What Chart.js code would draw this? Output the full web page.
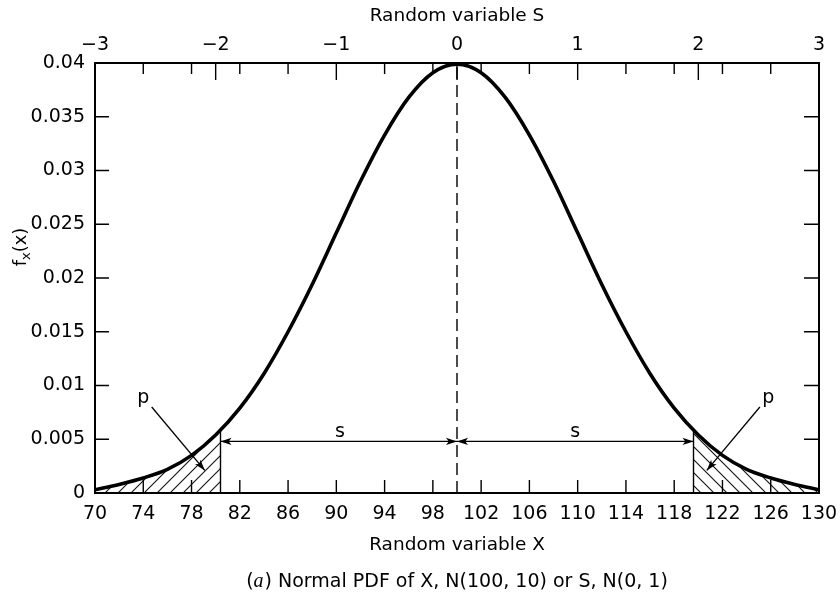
<!DOCTYPE html>
<html><head><meta charset="utf-8">
<script src="https://cdn.jsdelivr.net/npm/chart.js@4.4.1/dist/chart.umd.min.js"></script>
<style>html,body{margin:0;padding:0;background:#fff}#wrap{width:840px;height:596px}</style>
</head><body><div id="wrap"><canvas id="c" width="840" height="596"></canvas></div>
<script>
// ---- data ----
const xValues  = [70,72,74,76,78,80,82,84,86,88,90,92,94,96,98,100,102,104,106,108,110,112,114,116,118,120,122,124,126,128,130];
const fxValues = [0.0003,0.0008,0.0014,0.0022,0.0035,0.0054,0.0079,0.0111,0.0150,0.0194,0.0242,0.0290,0.0333,0.0368,0.0391,0.0399,
                  0.0391,0.0368,0.0333,0.0290,0.0242,0.0194,0.0150,0.0111,0.0079,0.0054,0.0035,0.0022,0.0014,0.0008,0.0003];
const xTickValues = [70,74,78,82,86,90,94,98,102,106,110,114,118,122,126,130];
const sTickValues = [-3,-2,-1,0,1,2,3];
const sTickLabels = ['\u22123','\u22122','\u22121','0','1','2','3'];
const yTickValues = [0,0.005,0.01,0.015,0.02,0.025,0.03,0.035,0.04];
const yTickLabels = ['0','0.005','0.01','0.015','0.02','0.025','0.03','0.035','0.04'];
const meanX = 100, peakFx = 0.0399;
const tailLowX = 80.4, tailHighX = 119.6, fxAtTail = 0.0058;
const sArrowFx = 0.0048;
// annotation anchors (data units)
const sLabels = [{x:90.3,y:0.0057,t:'s'},{x:109.8,y:0.0057,t:'s'}];
const pLabels = [{x:74.0,y:0.0088,t:'p'},{x:125.8,y:0.0088,t:'p'}];
const pArrows = [{x0:74.7,y0:0.0080,x1:79.1,y1:0.0021},{x0:125.1,y0:0.0080,x1:120.7,y1:0.0021}];

const curvePts = xValues.map((x,i)=>({x:x,y:fxValues[i]}));
const leftTail = curvePts.filter(p=>p.x<=tailLowX).concat([{x:tailLowX,y:fxAtTail}]);
const rightTail = [{x:tailHighX,y:fxAtTail}].concat(curvePts.filter(p=>p.x>=tailHighX));

const FONT = "'DejaVu Sans', sans-serif";
const ctx0 = document.getElementById('c').getContext('2d');
function hatch(dir){
  const n=13, c=document.createElement('canvas'); c.width=n; c.height=n;
  const g=c.getContext('2d'); g.strokeStyle='#111'; g.lineWidth=1.1; g.beginPath();
  if(dir>0){ g.moveTo(0,n); g.lineTo(n,0); g.moveTo(-n/2,n/2); g.lineTo(n/2,-n/2); g.moveTo(n/2,n*1.5); g.lineTo(n*1.5,n/2); }
  else { g.moveTo(0,0); g.lineTo(n,n); g.moveTo(-n/2,n/2); g.lineTo(n/2,n*1.5); g.moveTo(n/2,-n/2); g.lineTo(n*1.5,n/2); }
  g.stroke(); return ctx0.createPattern(c,'repeat');
}

function arrowHead(ctx,x,y,ang){
  const len=11,w=3.6;
  ctx.save(); ctx.translate(x,y); ctx.rotate(ang);
  ctx.beginPath(); ctx.moveTo(0,0); ctx.lineTo(-len,-w); ctx.lineTo(-len*0.75,0); ctx.lineTo(-len,w); ctx.closePath(); ctx.fill();
  ctx.restore();
}

const decor = {
  id:'decor',
  afterDraw(chart){
    const {ctx, chartArea:a} = chart;
    const xs=chart.scales.x, ys=chart.scales.y, ss=chart.scales.xs;
    ctx.save();
    ctx.strokeStyle='#000'; ctx.fillStyle='#000';
    // frame
    ctx.lineWidth=2; ctx.strokeRect(a.left,a.top,a.right-a.left,a.bottom-a.top);
    // inward ticks
    ctx.lineWidth=1.4; ctx.beginPath();
    xs.ticks.forEach(t=>{ if(t.value===xs.min||t.value===xs.max) return; const p=xs.getPixelForValue(t.value);
      ctx.moveTo(p,a.bottom); ctx.lineTo(p,a.bottom-13); ctx.moveTo(p,a.top); ctx.lineTo(p,a.top+11); });
    ss.ticks.forEach(t=>{ if(t.value===ss.min||t.value===ss.max) return; const p=ss.getPixelForValue(t.value);
      ctx.moveTo(p,a.top); ctx.lineTo(p,a.top+17); });
    ys.ticks.forEach(t=>{ if(t.value===ys.min||t.value===ys.max) return; const p=ys.getPixelForValue(t.value);
      ctx.moveTo(a.left,p); ctx.lineTo(a.left+14,p); ctx.moveTo(a.right,p); ctx.lineTo(a.right-15,p); });
    ctx.stroke();
    // s double arrows
    const yA=ys.getPixelForValue(sArrowFx);
    const xl=xs.getPixelForValue(tailLowX), xm=xs.getPixelForValue(meanX), xr=xs.getPixelForValue(tailHighX);
    ctx.lineWidth=1.3; ctx.beginPath(); ctx.moveTo(xl,yA); ctx.lineTo(xr,yA); ctx.stroke();
    arrowHead(ctx,xl,yA,Math.PI); arrowHead(ctx,xm,yA,0); arrowHead(ctx,xm,yA,Math.PI); arrowHead(ctx,xr,yA,0);
    // p arrows
    pArrows.forEach(r=>{ const x0=xs.getPixelForValue(r.x0), y0=ys.getPixelForValue(r.y0), x1=xs.getPixelForValue(r.x1), y1=ys.getPixelForValue(r.y1);
      ctx.beginPath(); ctx.moveTo(x0,y0); ctx.lineTo(x1,y1); ctx.stroke(); arrowHead(ctx,x1,y1,Math.atan2(y1-y0,x1-x0)); });
    // labels
    ctx.font="19px "+FONT; ctx.textAlign='center'; ctx.textBaseline='middle';
    sLabels.concat(pLabels).forEach(l=>ctx.fillText(l.t, xs.getPixelForValue(l.x), ys.getPixelForValue(l.y)));
    // y title f_x(x)
    ctx.save(); ctx.translate(20,247); ctx.rotate(-Math.PI/2);
    ctx.font="18px "+FONT; const wf=ctx.measureText('f').width, wp=ctx.measureText('(x)').width;
    ctx.font="13px "+FONT; const wx=ctx.measureText('x').width;
    let sx=-(wf+wx+wp)/2; ctx.textAlign='left'; ctx.textBaseline='alphabetic';
    ctx.font="18px "+FONT; ctx.fillText('f',sx,6); sx+=wf;
    ctx.font="13px "+FONT; ctx.fillText('x',sx,10); sx+=wx;
    ctx.font="18px "+FONT; ctx.fillText('(x)',sx,6);
    ctx.restore();
    // caption
    const c1='(', c2='a', c3=') Normal PDF of X, N(100, 10) or S, N(0, 1)';
    const fN="19px "+FONT, fI="italic 20px 'Liberation Serif', serif";
    ctx.font=fN; const w1=ctx.measureText(c1).width, w3=ctx.measureText(c3).width;
    ctx.font=fI; const w2=ctx.measureText(c2).width+1;
    let cx=457-(w1+w2+w3)/2; ctx.textAlign='left'; ctx.textBaseline='middle';
    ctx.font=fN; ctx.fillText(c1,cx,582); cx+=w1;
    ctx.font=fI; ctx.fillText(c2,cx,582); cx+=w2;
    ctx.font=fN; ctx.fillText(c3,cx,582);
    ctx.restore();
  }
};

const tickFont = {family:FONT, size:19};
const titleFont = {family:FONT, size:18.5};
function noPad(s){ s.paddingLeft=0; s.paddingRight=0; s.paddingTop=0; s.paddingBottom=0; }

new Chart(ctx0,{
  type:'line',
  data:{datasets:[
    {data:curvePts, borderColor:'#000', borderWidth:3.6, pointRadius:0, fill:false, cubicInterpolationMode:'monotone', order:0},
    {data:leftTail, borderWidth:0, borderColor:'rgba(0,0,0,0)', backgroundColor:hatch(1), fill:'origin', pointRadius:0, cubicInterpolationMode:'monotone', order:3},
    {data:rightTail, borderWidth:0, borderColor:'rgba(0,0,0,0)', backgroundColor:hatch(-1), fill:'origin', pointRadius:0, cubicInterpolationMode:'monotone', order:3},
    {data:[{x:tailLowX,y:0},{x:tailLowX,y:fxAtTail}], borderColor:'#000', borderWidth:1.4, pointRadius:0, fill:false, order:2},
    {data:[{x:tailHighX,y:0},{x:tailHighX,y:fxAtTail}], borderColor:'#000', borderWidth:1.4, pointRadius:0, fill:false, order:2},
    {data:[{x:meanX,y:0},{x:meanX,y:peakFx}], borderColor:'#000', borderWidth:1.4, borderDash:[12,6], pointRadius:0, fill:false, order:2}
  ]},
  options:{
    responsive:false, animation:false, devicePixelRatio:1,
    layout:{padding:0},
    plugins:{legend:{display:false}, tooltip:{enabled:false}, title:{display:false}},
    scales:{
      x:{type:'linear', position:'bottom', min:70, max:130,
         afterBuildTicks:s=>{s.ticks=xTickValues.map(v=>({value:v}));},
         ticks:{font:tickFont, color:'#000', padding:10, maxRotation:0, autoSkip:false},
         grid:{display:true, drawOnChartArea:false, drawTicks:false},
         border:{display:true, color:'#000', width:2},
         title:{display:true, text:'Random variable X', font:titleFont, color:'#000', padding:{top:0,bottom:40}},
         afterFit:s=>{s.height=103; noPad(s);}},
      xs:{type:'linear', position:'top', min:-3, max:3,
         afterBuildTicks:s=>{s.ticks=sTickValues.map(v=>({value:v}));},
         ticks:{font:tickFont, color:'#000', padding:7, maxRotation:0, autoSkip:false, callback:(v,i)=>sTickLabels[i]},
         grid:{display:true, drawOnChartArea:false, drawTicks:false},
         border:{display:true, color:'#000', width:2},
         title:{display:true, text:'Random variable S', font:titleFont, color:'#000', padding:{top:5,bottom:0}},
         afterFit:s=>{s.height=63; noPad(s);}},
      y:{type:'linear', position:'left', min:0, max:0.04,
         afterBuildTicks:s=>{s.ticks=yTickValues.map(v=>({value:v}));},
         ticks:{font:tickFont, color:'#000', padding:10, callback:(v,i)=>yTickLabels[i]},
         grid:{display:true, drawOnChartArea:false, drawTicks:false},
         border:{display:true, color:'#000', width:2},
         afterFit:s=>{s.width=95; noPad(s);}},
      yr:{type:'linear', position:'right', min:0, max:0.04,
         ticks:{display:false},
         grid:{display:true, drawOnChartArea:false, drawTicks:false},
         border:{display:true, color:'#000', width:2},
         afterFit:s=>{s.width=21; noPad(s);}}
    }
  },
  plugins:[decor]
});
</script></body></html>
